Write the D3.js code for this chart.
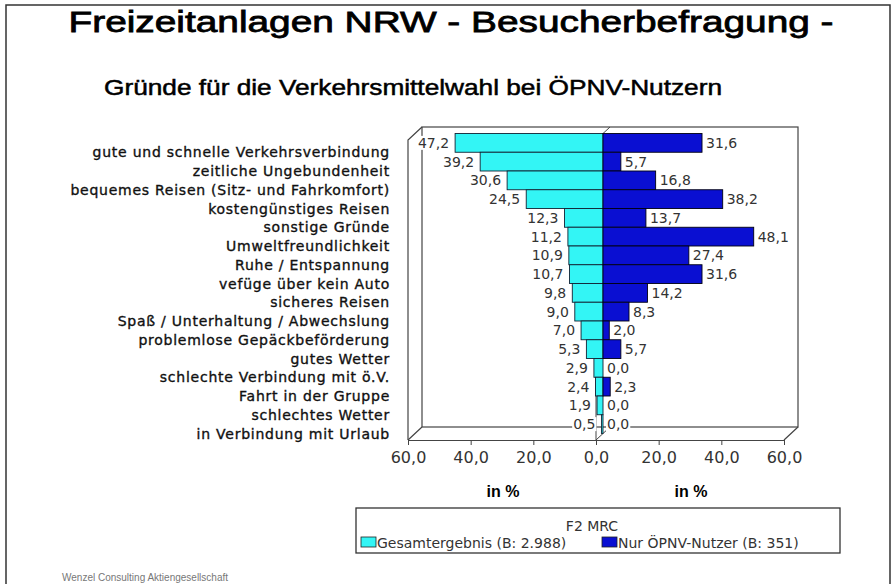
<!DOCTYPE html>
<html>
<head>
<meta charset="utf-8">
<script src="https://cdn.jsdelivr.net/npm/d3@7"></script>
<style>
  body { margin: 0; background: #fff; }
  svg { display: block; }
</style>
</head>
<body>
<div id="chart"></div>
<script>
// categories (top to bottom) and the two series, values in %
const categories = [
    'gute und schnelle Verkehrsverbindung',
    'zeitliche Ungebundenheit',
    'bequemes Reisen (Sitz- und Fahrkomfort)',
    'kostengünstiges Reisen',
    'sonstige Gründe',
    'Umweltfreundlichkeit',
    'Ruhe / Entspannung',
    'vefüge über kein Auto',
    'sicheres Reisen',
    'Spaß / Unterhaltung / Abwechslung',
    'problemlose Gepäckbeförderung',
    'gutes Wetter',
    'schlechte Verbindung mit ö.V.',
    'Fahrt in der Gruppe',
    'schlechtes Wetter',
    'in Verbindung mit Urlaub'
];
const gesamt = [47.2, 39.2, 30.6, 24.5, 12.3, 11.2, 10.9, 10.7, 9.8, 9.0, 7.0, 5.3, 2.9, 2.4, 1.9, 0.5];
const oepnv = [31.6, 5.7, 16.8, 38.2, 13.7, 48.1, 27.4, 31.6, 14.2, 8.3, 2.0, 5.7, 0.0, 2.3, 0.0, 0.0];
const xTicks = [-60, -40, -20, 0, 20, 40, 60];
const seriesNames = ['Gesamtergebnis (B: 2.988)', 'Nur ÖPNV-Nutzer (B: 351)'];
const seriesColors = ['#33F5F5', '#0A0FD2'];

const width = 894, height = 584;
const font = "'DejaVu Sans', sans-serif";
const sans = "'Liberation Sans', Arial, sans-serif";

const svg = d3.select('#chart').append('svg')
    .attr('width', width)
    .attr('height', height);

svg.append('rect').attr('width', width).attr('height', height).attr('fill', '#fff');

// outer frame
svg.append('path')
    .attr('d', 'M6,600 L6,5 L890,5 L890,600')
    .attr('fill', 'none').attr('stroke', '#333').attr('stroke-width', 1.5);

// titles (condensed look through textLength)
svg.append('text')
    .attr('x', 451).attr('y', 32)
    .attr('text-anchor', 'middle')
    .attr('font-family', sans)
    .attr('font-size', 30)
    .attr('stroke', '#000').attr('stroke-width', 0.8)
    .attr('textLength', 765).attr('lengthAdjust', 'spacingAndGlyphs')
    .text('Freizeitanlagen NRW - Besucherbefragung -');

svg.append('text')
    .attr('x', 413).attr('y', 95)
    .attr('text-anchor', 'middle')
    .attr('font-family', sans)
    .attr('font-size', 22)
    .attr('stroke', '#000').attr('stroke-width', 0.5)
    .attr('textLength', 618).attr('lengthAdjust', 'spacingAndGlyphs')
    .text('Gründe für die Verkehrsmittelwahl bei ÖPNV-Nutzern');

// scales: front plane of the 3d box
const x = d3.scaleLinear().domain([-60, 60]).range([408, 784]);
const y = d3.scaleBand().domain(categories).range([140, 440]).padding(0);
const dx = 14, dy = -13;          // depth of the box
const bx = dx / 2, by = dy / 2;   // bars sit at half depth

const x0 = x(-60), x1 = x(60), yTop = 140, yBot = 440;
const box = svg.append('g')
    .attr('fill', 'none').attr('stroke', '#444').attr('stroke-width', 1.2);

// back wall, left wall, floor
box.append('rect')
    .attr('x', x0 + dx).attr('y', yTop + dy)
    .attr('width', x1 - x0).attr('height', yBot - yTop);
box.append('path')
    .attr('d', `M${x0},${yBot} L${x0},${yTop} L${x0 + dx},${yTop + dy}`);
box.append('path')
    .attr('d', `M${x0},${yBot} L${x0 + dx},${yBot + dy} M${x1},${yBot} L${x1 + dx},${yBot + dy}`);

// bars
const bars = svg.append('g').attr('transform', `translate(${bx},${by})`);

bars.selectAll('.bar-left')
    .data(categories)
    .join('rect')
    .attr('class', 'bar-left')
    .attr('x', (d, i) => x(-gesamt[i]))
    .attr('y', d => y(d))
    .attr('width', (d, i) => x(0) - x(-gesamt[i]))
    .attr('height', y.bandwidth())
    .attr('fill', seriesColors[0])
    .attr('stroke', '#123')
    .attr('stroke-width', 0.9);

bars.selectAll('.bar-right')
    .data(categories)
    .join('rect')
    .attr('class', 'bar-right')
    .attr('x', x(0))
    .attr('y', d => y(d))
    .attr('width', (d, i) => x(oepnv[i]) - x(0))
    .attr('height', y.bandwidth())
    .attr('fill', seriesColors[1])
    .attr('stroke', '#001')
    .attr('stroke-width', 0.9);

// zero plane edges
box.append('path')
    .attr('d', `M${x(0)},${yBot} L${x(0)},${yTop} L${x(0) + dx},${yTop + dy} M${x(0)},${yBot} L${x(0) + dx},${yBot + dy}`)
    .attr('stroke-width', 1);

// value labels with white boxes
function addLabels(values, side) {
    const g = bars.append('g');
    values.forEach((v, i) => {
        const txt = d3.format('.1f')(v).replace('.', ',');
        const cy = y(categories[i]) + y.bandwidth() / 2;
        const tx = side < 0 ? x(-v) - 6 : x(v) + 4;
        const t = g.append('text')
            .attr('x', tx).attr('y', cy + 5)
            .attr('text-anchor', side < 0 ? 'end' : 'start')
            .attr('font-family', font).attr('font-size', 14)
            .attr('fill', '#333')
            .text(txt);
        const bb = t.node().getBBox();
        g.insert('rect', 'text')
            .attr('x', bb.x - 1).attr('y', cy - 7)
            .attr('width', bb.width + 2).attr('height', 14)
            .attr('fill', '#fff');
    });
}
addLabels(gesamt, -1);
addLabels(oepnv, 1);

// category labels
svg.append('g').selectAll('text')
    .data(categories)
    .join('text')
    .attr('x', 390)
    .attr('y', d => y(d) + y.bandwidth() / 2 + 8)
    .attr('text-anchor', 'end')
    .attr('font-family', font)
    .attr('font-size', 14)
    .attr('letter-spacing', 0.75)
    .attr('fill', '#111')
    .attr('stroke', '#111').attr('stroke-width', 0.35)
    .text(d => d);

// x axis along the front edge of the floor
const axis = svg.append('g')
    .attr('transform', `translate(0,${yBot})`)
    .call(d3.axisBottom(x)
        .tickValues(xTicks)
        .tickSize(5)
        .tickSizeOuter(0)
        .tickPadding(7)
        .tickFormat(d => d3.format('.1f')(Math.abs(d)).replace('.', ',')));
axis.select('.domain').attr('stroke', '#444').attr('stroke-width', 1.2);
axis.selectAll('.tick line').attr('stroke', '#444');
axis.selectAll('.tick text')
    .attr('font-family', font).attr('font-size', 16).attr('fill', '#333');

// axis titles
[[-30, 'in %'], [30, 'in %']].forEach(([v, s]) => {
    svg.append('text')
        .attr('x', x(v) + 1).attr('y', 497)
        .attr('text-anchor', 'middle')
        .attr('font-family', sans)
        .attr('font-weight', 'bold').attr('font-size', 16)
        .text(s);
});

// legend
const legend = svg.append('g');
legend.append('rect')
    .attr('x', 356).attr('y', 508).attr('width', 484).attr('height', 45)
    .attr('fill', '#fff').attr('stroke', '#333').attr('stroke-width', 1.3);
legend.append('text')
    .attr('x', 592).attr('y', 531)
    .attr('text-anchor', 'middle')
    .attr('font-family', font).attr('font-size', 14).attr('fill', '#333')
    .text('F2 MRC');
const legendX = [361, 602];
seriesNames.forEach((name, i) => {
    legend.append('rect')
        .attr('x', legendX[i]).attr('y', 537).attr('width', 15).attr('height', 10)
        .attr('fill', seriesColors[i]).attr('stroke', '#222').attr('stroke-width', 0.8);
    legend.append('text')
        .attr('x', legendX[i] + 16).attr('y', 548)
        .attr('font-family', font).attr('font-size', 14).attr('fill', '#333')
        .text(name);
});

// footer
svg.append('text')
    .attr('x', 62).attr('y', 581)
    .attr('font-family', sans)
    .attr('font-size', 10).attr('fill', '#777')
    .text('Wenzel Consulting Aktiengesellschaft');
</script>
</body>
</html>
